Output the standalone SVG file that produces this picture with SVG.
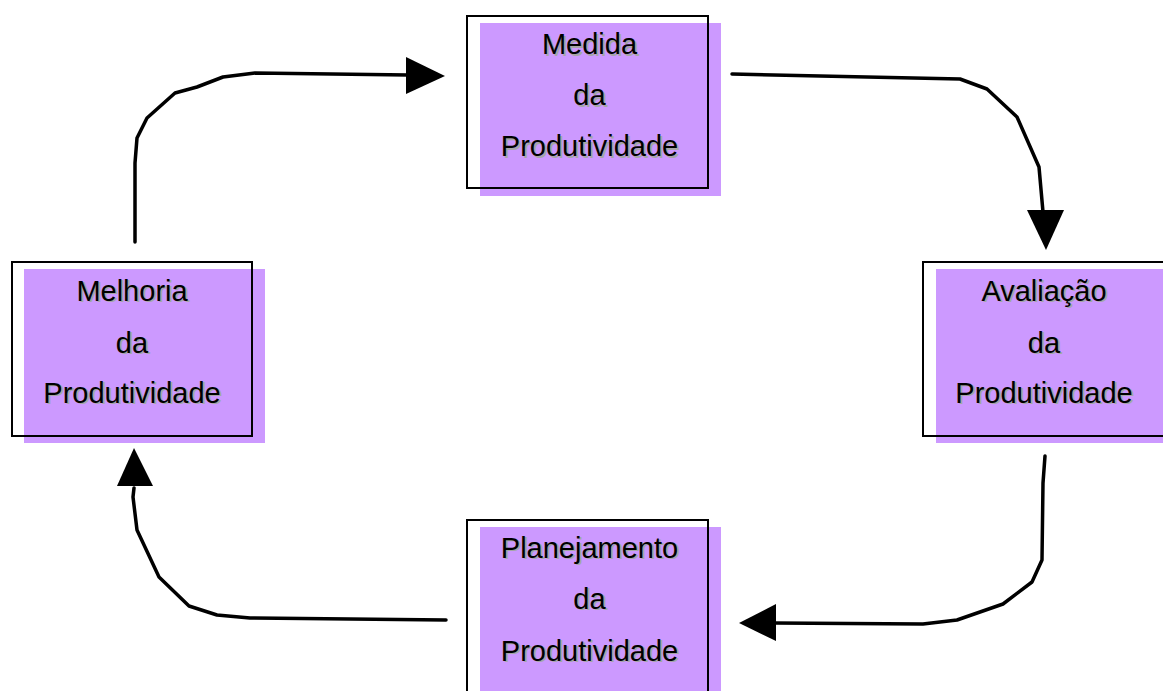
<svg xmlns="http://www.w3.org/2000/svg" width="1163" height="691" viewBox="0 0 1163 691">
  <style>
    .fill { fill: #cc99ff; }
    .frame { fill: none; stroke: #000; stroke-width: 2; }
    .lbl { font-family: "Liberation Sans", Arial, sans-serif; font-size: 29px; text-anchor: middle; }
    .shadow { fill: #a6a6a6; }
    .ink { fill: #000; }
    .wire { fill: none; stroke: #000; stroke-width: 3.5; stroke-linejoin: round; stroke-linecap: round; }
    .head { fill: #000; }
  </style>
  <rect width="1163" height="691" fill="#fff"/>

  <!-- cycle connectors -->
  <g id="connectors">
    <polyline class="wire" points="135,242 135,163 137,138 147,118 175,93 197,87 223,77 255,73 408,75"/>
    <polygon class="head" points="406,57 445,76 406,94"/>

    <polyline class="wire" points="732,74 960,79 987,89 1017,117 1039,167 1043,212"/>
    <polygon class="head" points="1027,210 1064,210 1046,250"/>

    <polyline class="wire" points="1045,456 1043,483 1042,560 1032,582 1003,604 957,620 923,624 774,623"/>
    <polygon class="head" points="776,604 739,623 776,641"/>

    <polyline class="wire" points="446,620 250,618 217,615 189,606 159,577 137,530 133,497 134,488"/>
    <polygon class="head" points="117,486 153,486 134,448"/>
  </g>

  <!-- each label: gray copy offset down-right, black copy on top -->
  <g id="medida">
    <rect class="fill" x="480" y="23" width="241" height="173"/>
    <rect class="frame" x="467" y="16" width="241" height="172"/>
    <text class="lbl shadow" y="55.5"><tspan x="591.5">Medida</tspan><tspan x="591.5" y="106.5">da</tspan><tspan x="591.5" y="157.5">Produtividade</tspan></text>
    <text class="lbl ink" y="54"><tspan x="589.5">Medida</tspan><tspan x="589.5" y="105">da</tspan><tspan x="589.5" y="156">Produtividade</tspan></text>
  </g>

  <g id="avaliacao">
    <rect class="fill" x="936" y="269" width="241" height="174"/>
    <rect class="frame" x="923" y="262" width="241" height="174"/>
    <text class="lbl shadow" y="302"><tspan x="1046">Avaliação</tspan><tspan x="1046" y="354">da</tspan><tspan x="1046" y="404">Produtividade</tspan></text>
    <text class="lbl ink" y="300.5"><tspan x="1044">Avaliação</tspan><tspan x="1044" y="352.5">da</tspan><tspan x="1044" y="402.5">Produtividade</tspan></text>
  </g>

  <g id="planejamento">
    <rect class="fill" x="480" y="527" width="241" height="174"/>
    <rect class="frame" x="467" y="520" width="241" height="180"/>
    <text class="lbl shadow" y="559"><tspan x="591.5">Planejamento</tspan><tspan x="591.5" y="610">da</tspan><tspan x="591.5" y="662">Produtividade</tspan></text>
    <text class="lbl ink" y="557.5"><tspan x="589.5">Planejamento</tspan><tspan x="589.5" y="608.5">da</tspan><tspan x="589.5" y="660.5">Produtividade</tspan></text>
  </g>

  <g id="melhoria">
    <rect class="fill" x="24" y="269" width="241" height="174"/>
    <rect class="frame" x="12" y="262" width="240" height="174"/>
    <text class="lbl shadow" y="302"><tspan x="134">Melhoria</tspan><tspan x="134" y="354">da</tspan><tspan x="134" y="404">Produtividade</tspan></text>
    <text class="lbl ink" y="300.5"><tspan x="132">Melhoria</tspan><tspan x="132" y="352.5">da</tspan><tspan x="132" y="402.5">Produtividade</tspan></text>
  </g>
</svg>
